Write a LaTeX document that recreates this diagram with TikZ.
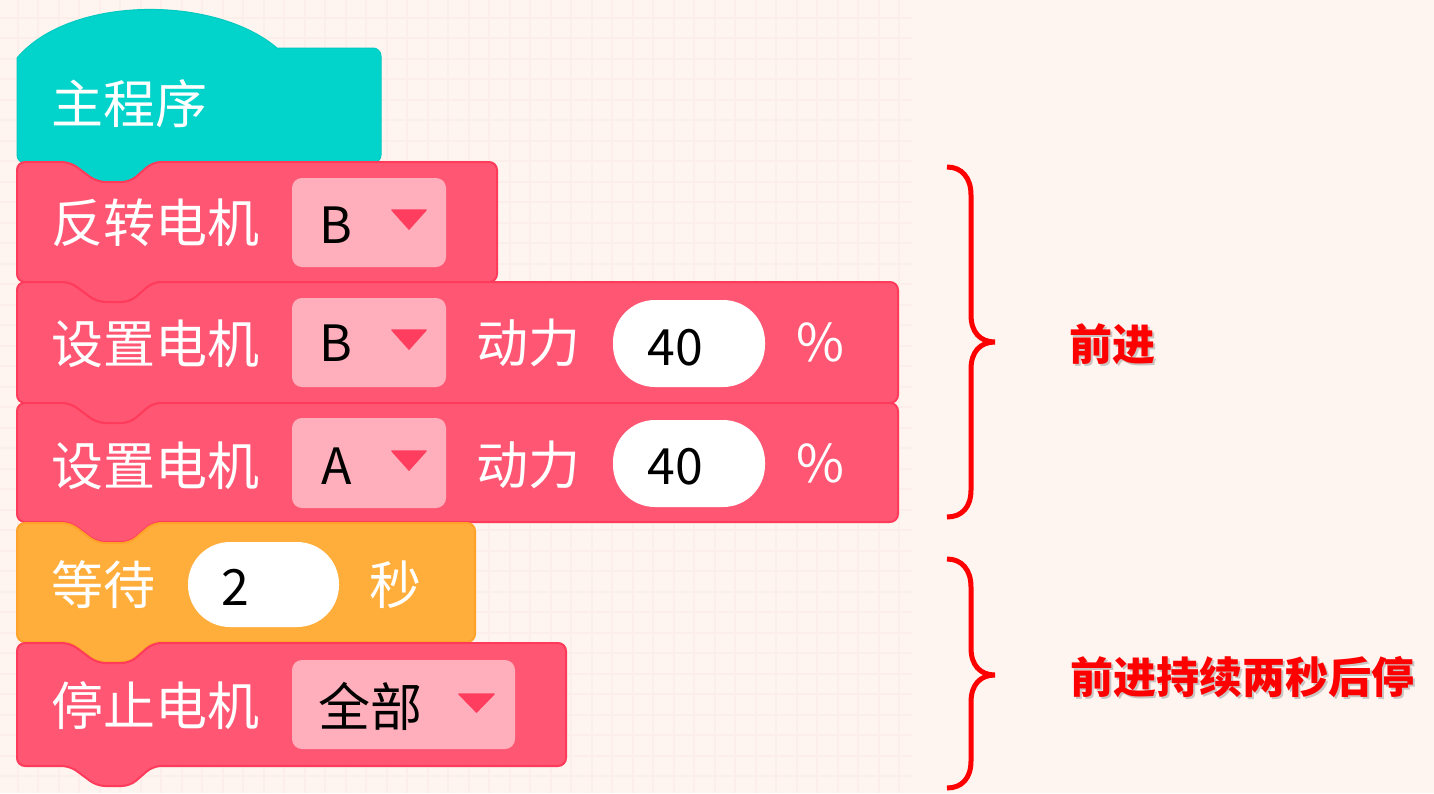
\documentclass[tikz,border=0pt]{standalone}
\usepackage{fontspec}
\newfontfamily\cjk{Noto Sans CJK SC}
\definecolor{bgc}{HTML}{FEF4F0}
\definecolor{gridc}{HTML}{FCEEE8}
\definecolor{tealc}{HTML}{02D4CB}
\definecolor{tealb}{HTML}{00C9C0}
\definecolor{redc}{HTML}{FF5773}
\definecolor{redb}{HTML}{FF3B5C}
\definecolor{orc}{HTML}{FFAE3B}
\definecolor{orb}{HTML}{FFA22A}
\definecolor{ddc}{HTML}{FFAEBB}
\definecolor{trc}{HTML}{FF3D5E}
\definecolor{brc}{HTML}{FF0000}
\tikzset{
  x=1pt, y=-1pt,
  redblk/.style={fill=redc, draw=redb, line width=2pt, rounded corners=8pt},
  orblk/.style={fill=orc, draw=orb, line width=2pt, rounded corners=8pt},
  ddbox/.style={fill=ddc, rounded corners=10pt},
  oval/.style={fill=white, rounded corners=42pt},
  tri/.style={fill=trc, draw=trc, line width=1.5pt, line join=round},
  wtxt/.style={text=white, inner sep=0pt, font=\cjk\fontsize{52}{52}\selectfont},
  btxt/.style={text=black, inner sep=0pt, font=\cjk\fontsize{50}{50}\selectfont},
  bcjk/.style={text=black, inner sep=0pt, font=\cjk\fontsize{52}{52}\selectfont},
  lbl/.style={text=brc, inner sep=0pt, font=\cjk\bfseries\fontsize{43}{43}\selectfont},
  shd/.style={text=black!35, opacity=0.6, inner sep=0pt, font=\cjk\bfseries\fontsize{43}{43}\selectfont},
  brace/.style={draw=brc, line width=5pt}
}
\newcommand\blkpath[4]{(#1,#2+20) -- (#1,#2) -- (70,#2) -- (97,#2+20) -- (130,#2+20) -- (153,#2) -- (#3,#2) -- (#3,#4) -- (153,#4) -- (130,#4+20) -- (97,#4+20) -- (70,#4) -- (#1,#4) -- cycle}
\begin{document}
\begin{tikzpicture}
\useasboundingbox (0,0) rectangle (1434,793);
\fill[bgc] (0,0) rectangle (1434,793);
% faint grid
\foreach \i in {0,...,44} {
  \draw[gridc, line width=2pt] (-3+\i*20.5,0) -- (-3+\i*20.5,793);
}
\foreach \j in {0,...,39} {
  \draw[gridc, line width=2pt] (0,-3+\j*20.5) -- (912,-3+\j*20.5);
}
% hat block
\path[fill=tealc, draw=tealb, line width=1pt] (17,100) [rounded corners=8pt] -- (17,163) -- (70,163) -- (97,183) -- (130,183) -- (153,163) -- (381,163) -- (381,48) -- (300,48) [sharp corners] -- (277,48) .. controls (215,-5) and (70,-5) .. (17,58) -- cycle;
\node[wtxt] (hat) at (129,104) {主程序};
% block 1
\path[redblk] \blkpath{17}{162}{497}{282};
\path[ddbox] (292,178) rectangle (446,267);
\path[tri] (392,210) -- (426,210) -- (409,229) -- cycle;
\node[wtxt] (b1) at (155.5,223) {反转电机};
\node[btxt] (b1m) at (336,225) {B};
% block 2
\path[redblk] \blkpath{17}{282}{898}{403};
\path[ddbox] (292,298) rectangle (446,387);
\path[tri] (392,330) -- (426,330) -- (409,349) -- cycle;
\path[oval] (613,300) rectangle (765,387);
\node[wtxt] (b2) at (155.5,344) {设置电机};
\node[btxt] (b2m) at (336,343) {B};
\node[wtxt] (b2d) at (528,343) {动力};
\node[btxt] (b2v) at (675,348) {40};
\node[wtxt] (b2p) at (820,342) {\%};
% block 3
\path[redblk] \blkpath{17}{403}{898}{522};
\path[ddbox] (292,418) rectangle (446,508);
\path[tri] (392,451) -- (426,451) -- (409,470) -- cycle;
\path[oval] (613,420) rectangle (765,507);
\node[wtxt] (b3) at (155.5,466) {设置电机};
\node[btxt] (b3m) at (337,466) {A};
\node[wtxt] (b3d) at (528,465) {动力};
\node[btxt] (b3v) at (675,467) {40};
\node[wtxt] (b3p) at (820,463) {\%};
% block 4 (wait)
\path[orblk] \blkpath{17}{523}{475}{642};
\path[oval] (188,542) rectangle (339,627);
\node[wtxt] (b4) at (103,585) {等待};
\node[btxt] (b4v) at (235,587) {2};
\node[wtxt] (b4s) at (395,585) {秒};
% block 5 (stop)
\path[redblk] \blkpath{17}{643}{566}{766};
\path[ddbox] (292,660) rectangle (515,749);
\path[tri] (459,694) -- (494,694) -- (476.5,712) -- cycle;
\node[wtxt] (b5) at (155.5,706) {停止电机};
\node[bcjk] (b5m) at (370,706) {全部};
% braces
\coordinate (br1t) at (947,167);
\coordinate (br1m) at (995,342);
\coordinate (br1b) at (947,517);
\draw[brace] (br1t) .. controls (962,167) and (971,178) .. (971,195) -- (971,315)
  .. controls (971,332) and (980,342) .. (br1m)
  .. controls (980,342) and (971,352) .. (971,369) -- (971,490)
  .. controls (971,507) and (962,517) .. (br1b);
\coordinate (br2t) at (947,559);
\coordinate (br2m) at (995,675);
\coordinate (br2b) at (947,788);
\draw[brace] (br2t) .. controls (962,559) and (971,570) .. (971,587) -- (971,648)
  .. controls (971,665) and (980,675) .. (br2m)
  .. controls (980,675) and (971,685) .. (971,702) -- (971,761)
  .. controls (971,778) and (962,788) .. (br2b);
% labels
\node[shd] at (1114.5,346.5) {前进};
\node[lbl] (l1) at (1112,344) {前进};
\node[shd] at (1244.5,679.5) {前进持续两秒后停};
\node[lbl] (l2) at (1242,677) {前进持续两秒后停};
\end{tikzpicture}
\end{document}
